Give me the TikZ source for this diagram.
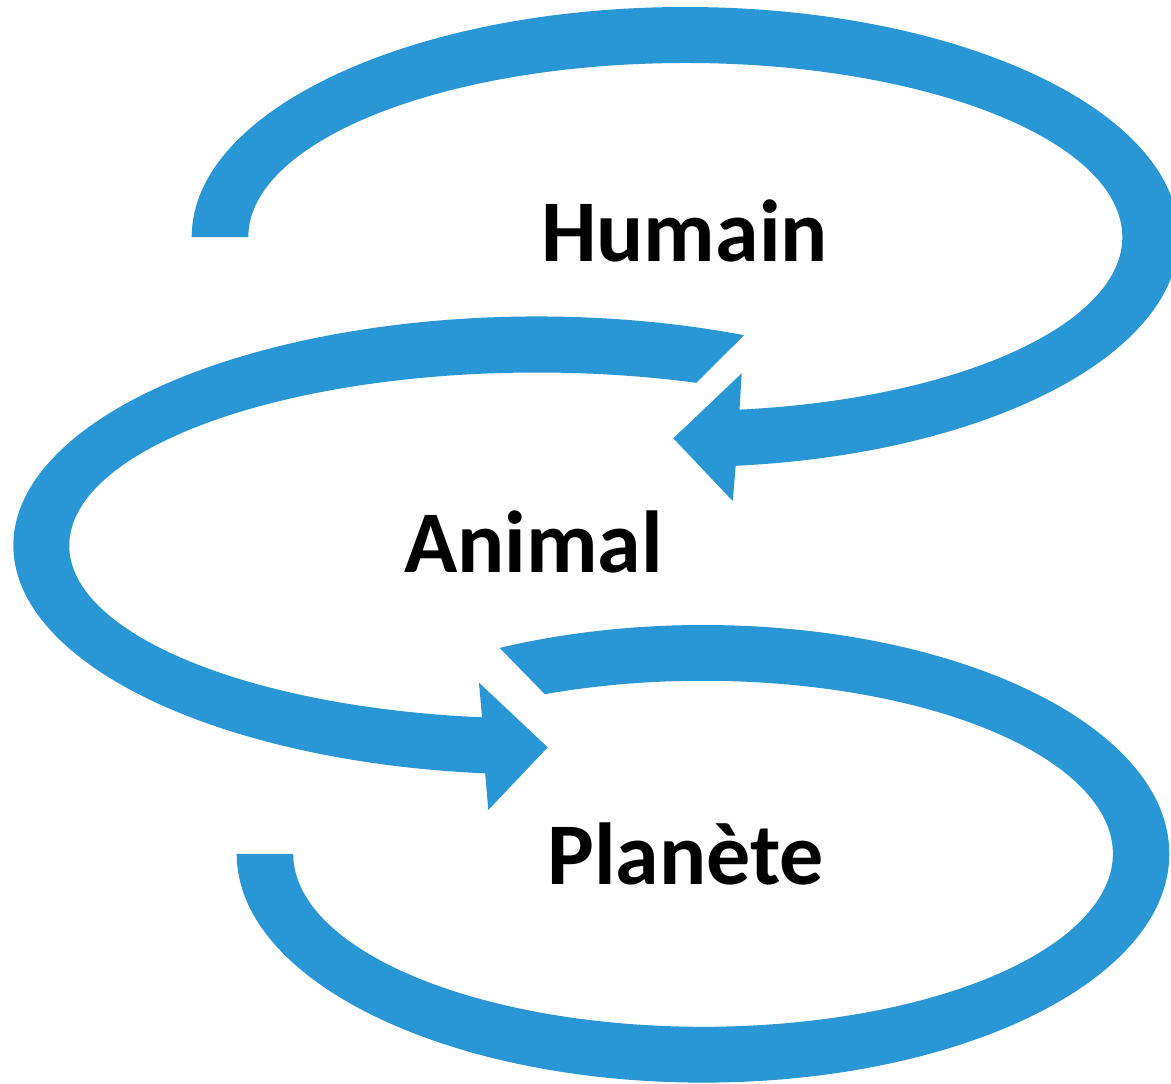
\documentclass[tikz,border=0pt]{standalone}
\usepackage{fontspec}
\setmainfont{Carlito}
\definecolor{arrowblue}{RGB}{41,151,213}
\tikzset{
  band/.style={fill=arrowblue, draw=none},
  lbl/.style={anchor=base, inner sep=0pt, font=\fontsize{88}{100}\selectfont\bfseries, text=black}
}
\begin{document}
\begin{tikzpicture}[x=1pt,y=1pt]
\useasboundingbox (0,0) rectangle (1171,-1084);
\clip (0,0) rectangle (1171,-1084);
% arc 1 (top), arrow head pointing left
\coordinate (c1) at (685.3,-237);
\fill[band] ([shift={(c1)}]180:493.6pt and 230pt)
  arc[start angle=180, end angle=-84.14, x radius=493.6pt, y radius=230pt]
  -- (732.7,-501) -- (673.3,-438.3) -- (741.7,-373.3)
  -- ([shift={(c1)}]-82.87:437pt and 174pt)
  arc[start angle=-82.87, end angle=180, x radius=437pt, y radius=174pt]
  -- cycle;
% arc 2 (middle), arrow head pointing right
\coordinate (c2) at (537,-545.5);
\fill[band] ([shift={(c2)}]66.7:523.7pt and 229pt)
  arc[start angle=66.7, end angle=264.32, x radius=523.7pt, y radius=229pt]
  -- (488.3,-810) -- (547.7,-747.3) -- (479,-682.7)
  -- ([shift={(c2)}]263.25:467.7pt and 173pt)
  arc[start angle=263.25, end angle=70.1, x radius=467.7pt, y radius=173pt]
  -- cycle;
% arc 3 (bottom)
\coordinate (c3) at (703,-853.8);
\fill[band] ([shift={(c3)}]180:466.3pt and 228.8pt)
  arc[start angle=180, end angle=475.86, x radius=466.3pt, y radius=228.8pt]
  -- ([shift={(c3)}]472.7:409.8pt and 173pt)
  arc[start angle=472.7, end angle=180, x radius=409.8pt, y radius=173pt]
  -- cycle;
% labels
\node[lbl] (humain) at (684.5,-261.5) {Humain};
\node[lbl] (animal) at (533.5,-572) {Animal};
\node[lbl] (planete) at (685.5,-884) {Planète};
\end{tikzpicture}
\end{document}
